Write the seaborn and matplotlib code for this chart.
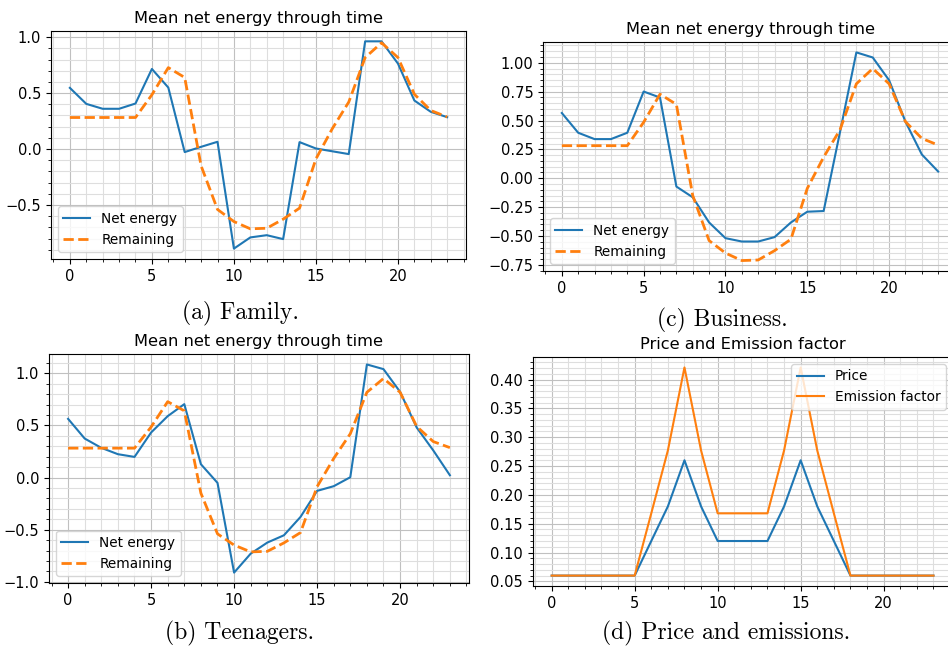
import numpy as np
import pandas as pd
import matplotlib
matplotlib.use("Agg")
import matplotlib.pyplot as plt
from matplotlib.ticker import MultipleLocator, AutoMinorLocator
import seaborn as sns

hours = list(range(24))

remaining = [0.282, 0.282, 0.282, 0.282, 0.282, 0.485, 0.728, 0.64, -0.15, -0.54,
             -0.648, -0.713, -0.708, -0.627, -0.528, -0.088, 0.183, 0.42, 0.818, 0.95,
             0.818, 0.49, 0.345, 0.287]

family_net = [0.547, 0.404, 0.36, 0.36, 0.407, 0.716, 0.55, -0.027, 0.02, 0.065,
              -0.89, -0.79, -0.77, -0.805, 0.062, 0.005, -0.02, -0.045, 0.963, 0.963,
              0.764, 0.434, 0.333, 0.285]

business_net = [0.565, 0.394, 0.339, 0.339, 0.394, 0.751, 0.699, -0.072, -0.165, -0.383,
                -0.519, -0.548, -0.548, -0.51, -0.383, -0.29, -0.284, 0.40, 1.09, 1.046,
                0.849, 0.49, 0.206, 0.058]

teen_net = [0.563, 0.374, 0.285, 0.224, 0.198, 0.432, 0.589, 0.704, 0.128, -0.051,
            -0.912, -0.73, -0.624, -0.554, -0.378, -0.128, -0.083, 0.003, 1.085, 1.04,
            0.822, 0.48, 0.26, 0.022]

price = [0.06, 0.06, 0.06, 0.06, 0.06, 0.06, 0.12, 0.18, 0.26, 0.18,
         0.12, 0.12, 0.12, 0.12, 0.18, 0.26, 0.18, 0.12, 0.06, 0.06,
         0.06, 0.06, 0.06, 0.06]

emission = [0.06, 0.06, 0.06, 0.06, 0.06, 0.06, 0.168, 0.277, 0.421, 0.277,
            0.168, 0.168, 0.168, 0.168, 0.277, 0.421, 0.277, 0.168, 0.06, 0.06,
            0.06, 0.06, 0.06, 0.06]

net_title = "Mean net energy through time"
price_title = "Price and Emission factor"
captions = ["(a) Family.", "(b) Teenagers.", "(c) Business.", "(d) Price and emissions."]

BLUE = "#1f77b4"
ORANGE = "#ff7f0e"

plt.rcParams["font.family"] = ["DejaVu Sans"]
fig = plt.figure(figsize=(9.48, 6.52), dpi=100)

def style(ax, ystep):
    ax.xaxis.set_major_locator(MultipleLocator(5))
    ax.xaxis.set_minor_locator(AutoMinorLocator(5))
    ax.yaxis.set_major_locator(MultipleLocator(ystep))
    ax.yaxis.set_minor_locator(AutoMinorLocator(5))
    ax.grid(which="major", color="#c0c0c0", linewidth=0.8)
    ax.grid(which="minor", color="#dedede", linewidth=0.8)
    ax.set_axisbelow(True)
    ax.tick_params(labelsize=10.5)
    ax.set_xlabel("")
    ax.set_ylabel("")

def net_panel(rect, net, ystep):
    ax = fig.add_axes(rect)
    sns.lineplot(x=hours, y=net, ax=ax, color=BLUE, linewidth=1.5, label="Net energy")
    sns.lineplot(x=hours, y=remaining, ax=ax, color=ORANGE, linewidth=2,
                 linestyle="--", label="Remaining")
    ax.set_title(net_title, fontsize=11.7)
    style(ax, ystep)
    ax.legend(loc="lower left", fontsize=9.8)
    return ax

ax_a = net_panel([0.0538, 0.6028, 0.4378, 0.3497], family_net, 0.5)
ax_c = net_panel([0.5728, 0.5844, 0.4367, 0.3512], business_net, 0.25)
ax_b = net_panel([0.0517, 0.1058, 0.4430, 0.3512], teen_net, 0.5)

ax_d = fig.add_axes([0.5618, 0.1012, 0.4430, 0.3512])
sns.lineplot(x=hours, y=price, ax=ax_d, color=BLUE, linewidth=1.5, label="Price")
sns.lineplot(x=hours, y=emission, ax=ax_d, color=ORANGE, linewidth=1.5, label="Emission factor")
ax_d.set_title(price_title, fontsize=11.7)
style(ax_d, 0.05)
ax_d.legend(loc="upper right", fontsize=9.8)

cap_font = dict(family="cmr10", fontsize=17, ha="center", va="center")
fig.text(240 / 948, 1 - 313 / 652, captions[0], **cap_font)
fig.text(240 / 948, 1 - 633 / 652, captions[1], **cap_font)
fig.text(722 / 948, 1 - 320 / 652, captions[2], **cap_font)
fig.text(726 / 948, 1 - 633 / 652, captions[3], **cap_font)

fig.savefig("out.png", dpi=100, facecolor="white")
